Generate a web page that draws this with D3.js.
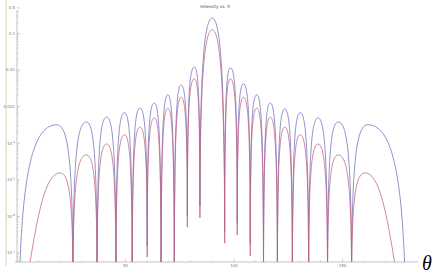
<!DOCTYPE html>
<html><head><meta charset="utf-8">
<script src="https://cdn.jsdelivr.net/npm/d3@7"></script>
<style>html,body{margin:0;padding:0;background:#fff;overflow:hidden}</style>
</head><body><svg id="c" width="440" height="273"></svg>
<script>
// ---- data ----
const titleText = "Intensity vs. θ";
const zeroTheta = [25.8, 36.9, 45.6, 53.1, 60.0, 66.4, 72.5, 78.5, 84.3, 95.7, 101.5, 107.5, 113.6, 120.0, 126.9, 134.4, 143.1, 154.2];
const blueEdgeTheta = [1.4, 178.6];
const redEdgeTheta = [6.0, 174.0];
const edgeValue = 5.6e-8;
const bluePeakTheta = [18.3, 32.0, 41.3, 49.5, 56.6, 63.3, 69.5, 75.6, 81.7, 90.0, 98.3, 104.4, 110.5, 116.7, 123.4, 130.5, 138.7, 148.0, 161.7];
const bluePeakValue = [3.2e-4, 3.8e-4, 5.2e-4, 6.8e-4, 9.1e-4, 1.26e-3, 2.1e-3, 3.9e-3, 1.2e-2, 0.263, 1.15e-2, 4.2e-3, 2.1e-3, 1.26e-3, 8.7e-4, 6.8e-4, 4.9e-4, 3.8e-4, 3.2e-4];
const blueDipValue = [1e-8, 1e-8, 1e-8, 1e-8, 1.6e-7, 1e-8, 1e-8, 1.07e-6, 1.9e-6, 3.9e-7, 6.5e-7, 1.7e-7, 1e-8, 1e-8, 1e-8, 1e-8, 1e-8, 1e-8];
const redPeakTheta = [19.8, 32.0, 41.3, 49.5, 56.6, 63.3, 69.5, 75.6, 81.7, 90.0, 98.3, 104.4, 110.5, 116.7, 123.4, 130.5, 138.7, 148.0, 160.4];
const redPeakValue = [1.55e-5, 4.8e-5, 9.5e-5, 1.7e-4, 2.75e-4, 4.9e-4, 9.1e-4, 1.8e-3, 5.8e-3, 0.126, 5.8e-3, 1.8e-3, 9.1e-4, 5.2e-4, 2.75e-4, 1.7e-4, 9.5e-5, 4.8e-5, 1.55e-5];
const redDipValue = [1e-8, 1e-8, 1e-8, 1e-8, 7.8e-8, 1e-8, 1e-8, 5.1e-7, 9.1e-7, 1.86e-7, 3.1e-7, 8.3e-8, 1e-8, 1e-8, 1e-8, 1e-8, 1e-8, 1e-8];
const yTickValues = [0.5, 0.1, 0.01, 0.001, 1e-4, 1e-5, 1e-6, 1e-7];
const yTickLabels = ["0.5", "0.1", "0.01", "0.001", "10|-4", "10|-5", "10|-6", "10|-7"];
const xTickValues = [50, 100, 150];
const xTickLabels = ["50", "100", "150"];
const xMinorTicks = [10, 20, 30, 40, 60, 70, 80, 90, 110, 120, 130, 140, 160, 170];

// ---- layout ----
const svg = d3.select("#c");
const x = d3.scaleLinear().domain([0, 180]).range([17, 407.6]);
const y = d3.scaleLog().domain([1e-7, 0.1]).range([253, 33.5]);
const plotTop = 10, plotBottom = 262, axisRight = 418;

svg.append("line").attr("x1", 6).attr("x2", 6).attr("y1", 0).attr("y2", 266)
  .attr("stroke", "#d6d6a8").attr("stroke-width", 1);

svg.append("defs").append("clipPath").attr("id", "clip")
  .append("rect").attr("x", 17).attr("y", plotTop).attr("width", 395).attr("height", plotBottom - plotTop);

function seriesPath(edges, peaksT, peaksV, dipsV, edgeShape) {
  const p = d3.path();
  const n = peaksT.length;
  const nodes = [[x(edges[0]), y(edgeValue)]];
  for (let i = 0; i < n - 1; i++) nodes.push([x(zeroTheta[i]), y(dipsV[i])]);
  nodes.push([x(edges[1]), y(edgeValue)]);
  p.moveTo(nodes[0][0], nodes[0][1]);
  for (let i = 0; i < n; i++) {
    const L = nodes[i], R = nodes[i + 1];
    const P = [x(peaksT[i]), y(peaksV[i])];
    const central = (i === (n - 1) / 2);
    const inner = central ? [0, 0.7, 0.68] : [0, 0.76, 0.74];
    const sL = i === 0 ? edgeShape : inner;
    const sR = i === n - 1 ? edgeShape : inner;
    p.bezierCurveTo(L[0] + sL[0] * (P[0] - L[0]), L[1] - sL[1] * (L[1] - P[1]),
                    P[0] - sL[2] * (P[0] - L[0]), P[1], P[0], P[1]);
    p.bezierCurveTo(P[0] + sR[2] * (R[0] - P[0]), P[1],
                    R[0] - sR[0] * (R[0] - P[0]), R[1] - sR[1] * (R[1] - P[1]), R[0], R[1]);
  }
  return p.toString();
}

const g = svg.append("g").attr("clip-path", "url(#clip)");
g.append("path").attr("d", seriesPath(blueEdgeTheta, bluePeakTheta, bluePeakValue, blueDipValue, [0.1, 0.7, 0.6]))
  .attr("fill", "none").attr("stroke", "#6e6ec0").attr("stroke-width", 0.75);
g.append("path").attr("d", seriesPath(redEdgeTheta, redPeakTheta, redPeakValue, redDipValue, [0.25, 0.5, 0.5]))
  .attr("fill", "none").attr("stroke", "#c2607e").attr("stroke-width", 0.75);

// axes
const axisColor = "#9a9a9a", labelColor = "#777";
svg.append("line").attr("x1", 17).attr("x2", 17).attr("y1", plotTop).attr("y2", plotBottom)
  .attr("stroke", axisColor).attr("stroke-width", 0.6);
svg.append("line").attr("x1", 15).attr("x2", axisRight).attr("y1", plotBottom).attr("y2", plotBottom)
  .attr("stroke", axisColor).attr("stroke-width", 0.6);

const minor = [];
for (let e = -8; e <= 0; e++) for (let m = 2; m <= 9; m++) {
  const v = m * Math.pow(10, e);
  const yy = y(v);
  if (yy >= plotTop && yy <= plotBottom) minor.push(v);
}
svg.selectAll(".ymin").data(minor).join("line")
  .attr("x1", 17).attr("x2", 18.6).attr("y1", d => y(d)).attr("y2", d => y(d))
  .attr("stroke", axisColor).attr("stroke-width", 0.4);
svg.selectAll(".ymaj").data(yTickValues).join("line")
  .attr("x1", 17).attr("x2", 20).attr("y1", d => y(d)).attr("y2", d => y(d))
  .attr("stroke", axisColor).attr("stroke-width", 0.5);
const yl = svg.selectAll(".ylab").data(yTickValues).join("text")
  .attr("x", 15).attr("y", d => y(d) + 1.4).attr("text-anchor", "end")
  .attr("font-family", "DejaVu Sans").attr("font-size", 4).attr("fill", labelColor);
yl.each(function(d, i) {
  const parts = yTickLabels[i].split("|");
  const t = d3.select(this);
  t.append("tspan").text(parts[0]);
  if (parts[1]) t.append("tspan").attr("dy", -1.6).attr("font-size", 3).text(parts[1]);
});

svg.selectAll(".xmin").data(xMinorTicks).join("line")
  .attr("x1", d => x(d)).attr("x2", d => x(d)).attr("y1", plotBottom).attr("y2", plotBottom - 1.6)
  .attr("stroke", axisColor).attr("stroke-width", 0.4);
svg.selectAll(".xmaj").data(xTickValues).join("line")
  .attr("x1", d => x(d)).attr("x2", d => x(d)).attr("y1", plotBottom).attr("y2", plotBottom - 3)
  .attr("stroke", axisColor).attr("stroke-width", 0.5);
svg.selectAll(".xlab").data(xTickValues).join("text")
  .attr("x", d => x(d)).attr("y", plotBottom + 4.6).attr("text-anchor", "middle")
  .attr("font-family", "DejaVu Sans").attr("font-size", 4).attr("fill", labelColor)
  .text((d, i) => xTickLabels[i]);

svg.append("text").attr("x", 422).attr("y", 269.5)
  .attr("font-family", "Liberation Serif").attr("font-style", "italic").attr("font-size", 20)
  .attr("fill", "#000").text("θ");
svg.append("text").attr("x", 215).attr("y", 7.5).attr("text-anchor", "middle")
  .attr("font-family", "DejaVu Sans").attr("font-size", 4.2).attr("fill", "#444").text(titleText);
</script>
</body></html>
